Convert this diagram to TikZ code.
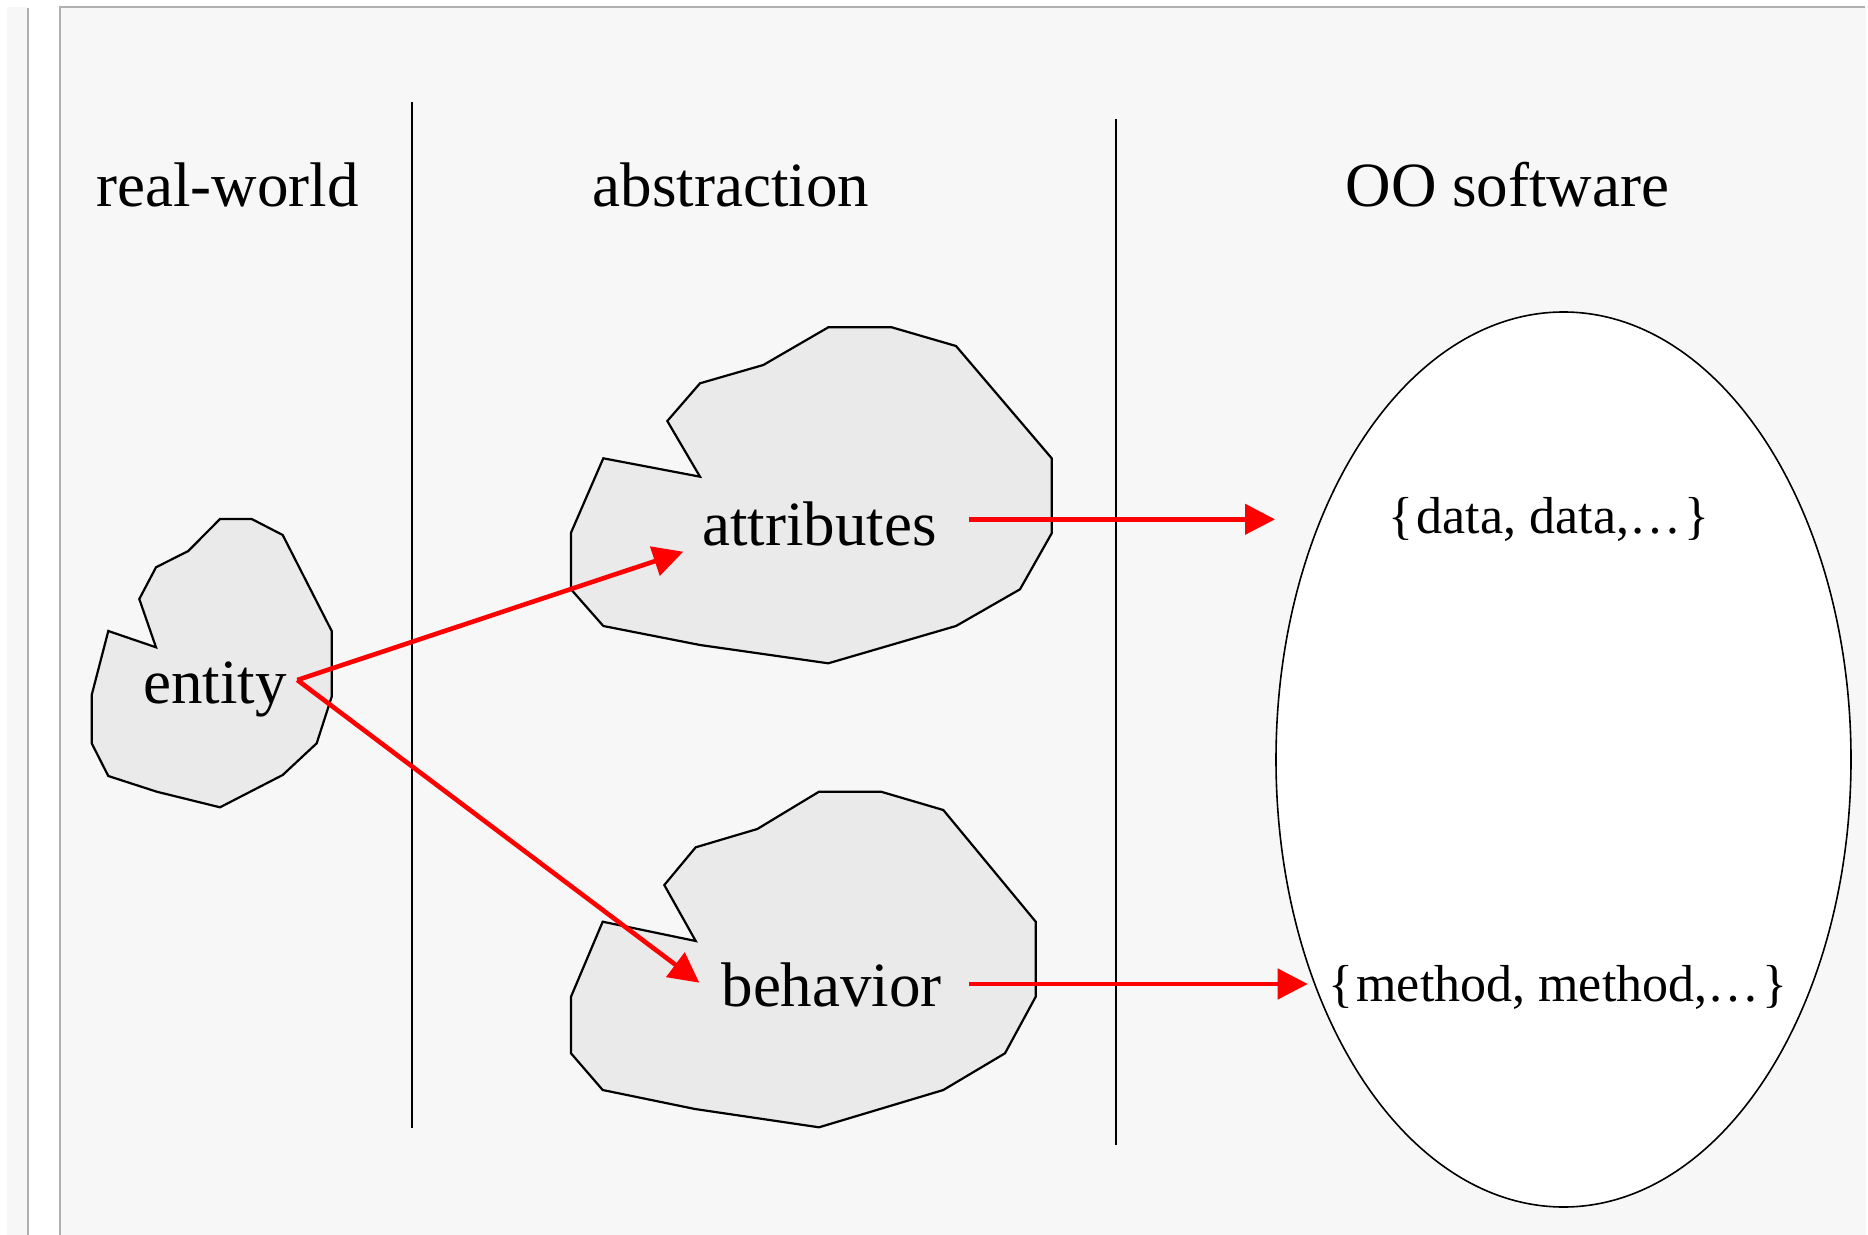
\documentclass[tikz,border=0pt]{standalone}
\usepackage{fontspec}
\setmainfont{Liberation Serif}
\usetikzlibrary{arrows.meta}
\definecolor{panel}{HTML}{F7F7F7}
\definecolor{rim}{HTML}{B0B0B0}
\definecolor{blobfill}{HTML}{EAEAEA}
\tikzset{
  blob/.style={draw=black, fill=blobfill, line width=1.1pt, line join=miter},
  divider/.style={draw=black, line width=1pt},
  big/.style={font=\fontsize{31.5}{36}\selectfont, inner sep=0pt, anchor=base},
  small/.style={font=\fontsize{26}{30}\selectfont, inner sep=0pt, anchor=base},
  redarrow/.style={draw=red, line width=2.3pt, -{Triangle[length=15pt,width=15pt]}},
}
\begin{document}
\begin{tikzpicture}[x=0.5pt,y=-0.5pt]
\useasboundingbox (0,0) rectangle (1868,1235);
% background frame
\fill[panel] (7,7) rectangle (27,1235);
\draw[rim, line width=1pt] (27.5,8) -- (27.5,1235);
\fill[panel] (59,7) rectangle (1866,1235);
\draw[rim, line width=1pt] (59.5,1235) -- (59.5,7.5) -- (1865,7.5);
% dividers
\draw[divider] (411.5,102.5) -- (411.5,1128);
\draw[divider] (1115.5,119) -- (1115.5,1145);
% titles
\node[big] (trw) at (227.5,206.7) {real-world};
\node[big] (tab) at (731,206.7) {abstraction};
\node[big] (too) at (1507.5,206.7) {OO software};
% entity blob
\draw[blob] (220,519) -- (251.7,519) -- (282.7,535) -- (331.7,631) -- (331.7,696.7)
  -- (316.7,743.3) -- (282.7,775) -- (220,807.3) -- (156.7,791.7) -- (108.3,776)
  -- (91.7,743.3) -- (91.7,695) -- (108.3,631) -- (156,647.3) -- (139.3,599)
  -- (156,567.3) -- (188.3,551) -- cycle;
% attributes blob
\draw[blob] (828.3,327.3) -- (891.7,327.3) -- (956,346) -- (1051.7,458.3) -- (1051.7,533.3)
  -- (1020,589.3) -- (956,626) -- (828.3,663.3) -- (700,645) -- (603.3,626)
  -- (571,589.3) -- (571,532.7) -- (603.3,458.3) -- (700,476.7) -- (667.3,421)
  -- (700,383.3) -- (763.3,365) -- cycle;
% behavior blob
\draw[blob] (819,791.7) -- (881,791.7) -- (943.3,810) -- (1035.7,921.7) -- (1035.7,996.7)
  -- (1005,1053.3) -- (943.3,1090) -- (819,1127.3) -- (695,1109) -- (602.7,1090)
  -- (571,1053.3) -- (571,996.7) -- (602.7,921.7) -- (695.7,941) -- (664.3,885)
  -- (695.7,847.3) -- (757.3,829) -- cycle;
% OO software ellipse
\draw[fill=white, line width=0.8pt] (1563.5,759.5) ellipse [x radius=143.75pt, y radius=223.75pt];
% labels
\node[big] (entity) at (215,703) {entity};
\node[big] (attr) at (819.7,545) {attributes};
\node[big] (behav) at (831.7,1006.7) {behavior};
\node[small] (data) at (1549,533.5) {\{\kern1.5pt data, data,…\kern1.5pt\}};
\node[small] (meth) at (1558,1001) {\{\kern1.5pt method, method,…\kern1.5pt\}};
% connector ends
\coordinate (eout) at (297.3,680);
\coordinate (ain) at (683.3,551.7);
\coordinate (bin) at (699.3,982.7);
\coordinate (aout) at (969.3,519.3);
\coordinate (dataIn) at (1275,519.3);
\coordinate (bout) at (969.3,984);
\coordinate (methIn) at (1307.7,984);
% arrows
\draw[redarrow] (eout) -- (ain);
\draw[redarrow] (eout) -- (bin);
\draw[redarrow] (aout) -- (dataIn);
\draw[redarrow] (bout) -- (methIn);
\end{tikzpicture}
\end{document}
